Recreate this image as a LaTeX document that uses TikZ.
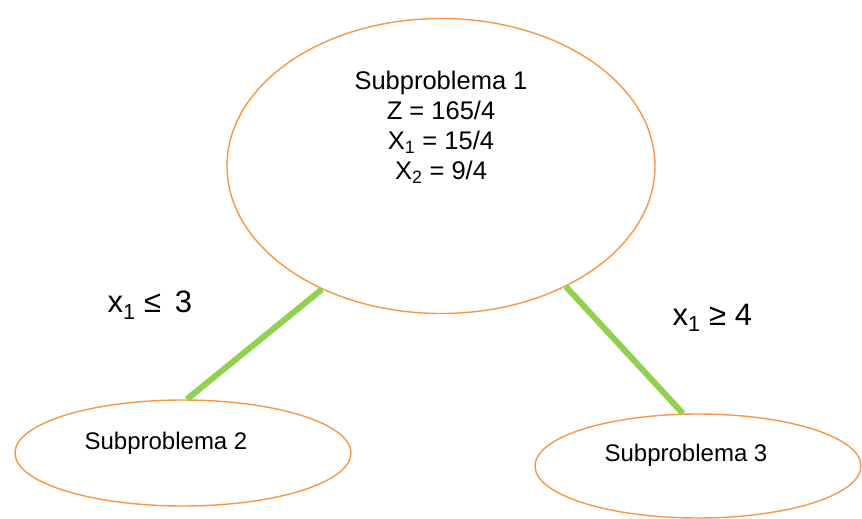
\documentclass[tikz,border=0pt]{standalone}
\usepackage{fontspec}
\setmainfont{Liberation Sans}
\usetikzlibrary{shapes.geometric}
\definecolor{nodeorange}{HTML}{F79646}
\definecolor{branchgreen}{HTML}{92D050}

\begin{document}
\begin{tikzpicture}[x=1pt, y=-1pt,
	subprob/.style={ellipse, draw=nodeorange, line width=1.4pt, inner sep=0pt},
	branch/.style={branchgreen, line width=6pt},
	cut/.style={anchor=west, font=\fontsize{31}{34}\selectfont}]
	\useasboundingbox (0,0) rectangle (862,519);
	% nodes of the tree
	\node[subprob, minimum width=428pt, minimum height=295pt] (sp1) at (441,166) {};
	\node[subprob, minimum width=336pt, minimum height=106pt] (sp2) at (183,453) {};
	\node[subprob, minimum width=326pt, minimum height=104pt] (sp3) at (698,466) {};
	\node[align=center, font=\fontsize{25.5}{30}\selectfont] (txt1) at (441,127) {Subproblema 1\\ Z = 165/4\\ X\textsubscript{1} = 15/4\\ X\textsubscript{2} = 9/4};
	\node[font=\fontsize{24}{28}\selectfont] (txt2) at (166,443) {Subproblema 2};
	\node[font=\fontsize{24}{28}\selectfont] (txt3) at (686,455) {Subproblema 3};
	% branches
	\draw[branch] (sp1.226) -- (sp2.86);
	\draw[branch] (sp1.316) -- (sp3.106);
	\node[cut] (le) at (104,305) {x\textsubscript{1} ≤\, 3};
	\node[cut] (ge) at (669,318) {x\textsubscript{1} ≥ 4};
\end{tikzpicture}
\end{document}
